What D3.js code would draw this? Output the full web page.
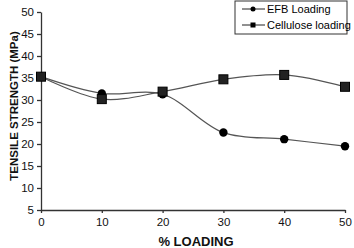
<!DOCTYPE html>
<html>
<head>
<meta charset="utf-8">
<script src="https://cdn.jsdelivr.net/npm/d3@7"></script>
<style>
  body { margin: 0; background: #fff; }
  svg { display: block; font-family: Arial, "Liberation Sans", sans-serif; }
</style>
</head>
<body>
<div id="chart"></div>
<script>
// % loading vs tensile strength, two fillers
var loading = [0, 10, 20, 30, 40, 50];
var efb = [35.3, 31.5, 31.3, 22.6, 21.1, 19.5];
var cellulose = [35.3, 30.2, 31.9, 34.7, 35.7, 33.0];
var yTicks = [5, 10, 15, 20, 25, 30, 35, 40, 45, 50];
var xTicks = [0, 10, 20, 30, 40, 50];

var w = 354;
var h = 248;
var margin = ({top: 12, right: 9, bottom: 38, left: 41});

var x = d3.scaleLinear()
     .domain([0, 50])
     .range([margin.left, w - margin.right]);

var y = d3.scaleLinear()
     .domain([5, 50])
     .range([h - margin.bottom, margin.top]);

var svg = d3.select('#chart')
     .append('svg')
     .attr('width', w)
     .attr('height', h);

var xAxis = g => g
     .attr('transform', 'translate(0,' + (h - margin.bottom) + ')')
     .call(d3.axisBottom(x).tickValues(xTicks).tickSize(3).tickSizeOuter(0))
     .call(g => g.selectAll('text').attr('font-size', 11.5).attr('dy', '0.85em').attr('fill', '#111'));

var yAxis = g => g
     .attr('transform', 'translate(' + margin.left + ',0)')
     .call(d3.axisLeft(y).tickValues(yTicks).tickSize(4).tickSizeOuter(0))
     .call(g => g.selectAll('text').attr('font-size', 11.5).attr('x', -7).attr('fill', '#111'));

svg.append('g').call(xAxis);
svg.append('g').call(yAxis);
svg.selectAll('.domain, .tick line').attr('stroke', '#333').attr('stroke-width', 1.3);

var line = d3.line()
     .x((d, i) => x(loading[i]))
     .y(d => y(d))
     .curve(d3.curveCatmullRom.alpha(0.5));

svg.append('path')
     .attr('d', line(efb))
     .attr('fill', 'none')
     .attr('stroke', '#555')
     .attr('stroke-width', 1.2);

svg.append('path')
     .attr('d', line(cellulose))
     .attr('fill', 'none')
     .attr('stroke', '#555')
     .attr('stroke-width', 1.2);

svg.selectAll('circle.efb')
     .data(efb)
     .enter()
     .append('circle')
     .attr('class', 'efb')
     .attr('cx', (d, i) => x(loading[i]))
     .attr('cy', d => y(d))
     .attr('r', 4.2)
     .attr('fill', '#000');

svg.selectAll('rect.cel')
     .data(cellulose)
     .enter()
     .append('rect')
     .attr('class', 'cel')
     .attr('x', (d, i) => x(loading[i]) - 4.5)
     .attr('y', d => y(d) - 4.5)
     .attr('width', 9)
     .attr('height', 9)
     .attr('fill', '#222')
     .attr('stroke', '#000');

// legend
var lg = svg.append('g').attr('transform', 'translate(235,1)');
lg.append('rect')
     .attr('width', 112)
     .attr('height', 33)
     .attr('fill', '#fff')
     .attr('stroke', '#333')
     .attr('stroke-width', 1);
lg.append('line').attr('x1', 7).attr('x2', 30).attr('y1', 8).attr('y2', 8).attr('stroke', '#222');
lg.append('circle').attr('cx', 18).attr('cy', 8).attr('r', 2.5).attr('fill', '#000');
lg.append('text').attr('x', 32).attr('y', 12).attr('font-size', 11).text('EFB Loading');
lg.append('line').attr('x1', 7).attr('x2', 30).attr('y1', 24).attr('y2', 24).attr('stroke', '#222');
lg.append('rect').attr('x', 15.5).attr('y', 21.5).attr('width', 5).attr('height', 5).attr('fill', '#000');
lg.append('text').attr('x', 32).attr('y', 28).attr('font-size', 11).text('Cellulose loading');

// titles
svg.append('text')
     .attr('transform', 'translate(18,106) rotate(-90)')
     .attr('text-anchor', 'middle')
     .attr('font-size', 11.5)
     .attr('font-weight', 'bold')
     .attr('fill', '#111')
     .text('TENSILE STRENGTH (MPa)');

svg.append('text')
     .attr('x', 196)
     .attr('y', 246)
     .attr('text-anchor', 'middle')
     .attr('font-size', 13)
     .attr('font-weight', 'bold')
     .attr('fill', '#111')
     .text('% LOADING');
</script>
</body>
</html>
